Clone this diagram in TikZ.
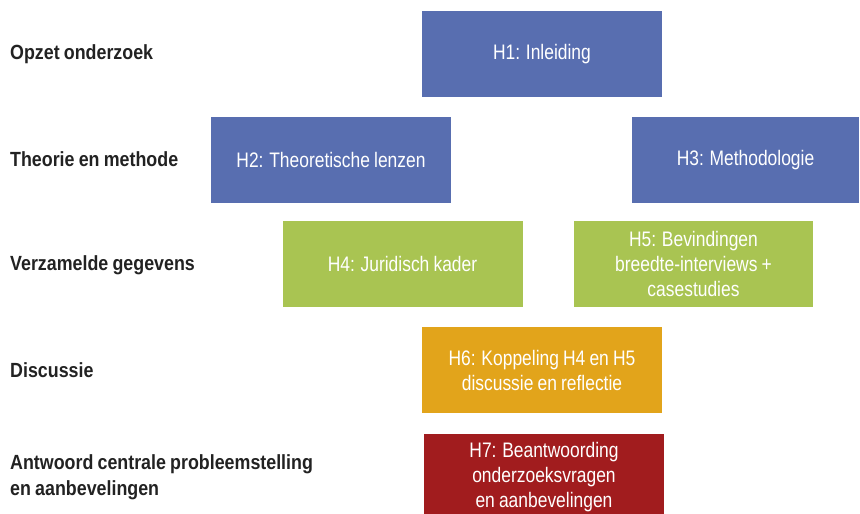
\documentclass[tikz,border=0pt]{standalone}
\usepackage{fontspec}
\setmainfont{Liberation Sans}[FakeStretch=0.83, WordSpace=0.85, BoldFeatures={FakeStretch=0.87}]
\definecolor{chapblue}{HTML}{586EB0}
\definecolor{chapgreen}{HTML}{A9C452}
\definecolor{chaporange}{HTML}{E2A41B}
\definecolor{chapred}{HTML}{A11C1E}
\definecolor{labelgray}{HTML}{222222}
\begin{document}
\begin{tikzpicture}[x=1pt,y=-1pt,
  chapter/.style={rectangle, inner sep=0pt, outer sep=0pt, text=white, align=center,
    font=\fontsize{21pt}{25pt}\selectfont, minimum height=86pt},
  phase/.style={anchor=west, align=left, text=labelgray, inner sep=0pt,
    font=\fontsize{20.5pt}{26pt}\selectfont\bfseries}]
\useasboundingbox (0,0) rectangle (860,514);

% phase labels on the left
\node[phase] (l1) at (10,54) {Opzet onderzoek};
\node[phase] (l2) at (10,159) {Theorie en methode};
\node[phase] (l3) at (10,265) {Verzamelde gegevens};
\node[phase] (l4) at (10,370) {Discussie};
\node[phase] (l5) at (10,477) {Antwoord centrale probleemstelling\\en aanbevelingen};

% chapter boxes
\node[chapter, fill=chapblue, minimum width=240pt] (h1) at (542,54) {H1: Inleiding};
\node[chapter, fill=chapblue, minimum width=240pt] (h2) at (331,160) {H2: Theoretische lenzen};
\node[chapter, fill=chapblue, minimum width=227pt] (h3) at (745.5,160) {H3: Methodologie};
\node[chapter, fill=chapgreen, minimum width=240pt] (h4) at (402.5,264) {H4: Juridisch kader};
\node[chapter, fill=chapgreen, minimum width=239pt] (h5) at (693.5,264) {H5: Bevindingen\\breedte-interviews +\\casestudies};
\node[chapter, fill=chaporange, minimum width=240pt] (h6) at (542,370) {H6: Koppeling H4 en H5\\discussie en reflectie};
\node[chapter, fill=chapred, minimum width=240pt, minimum height=80pt] (h7) at (544,474) {};
\node[text=white, align=center, inner sep=0pt, font=\fontsize{21pt}{25pt}\selectfont] (h7t) at (544,477)
  {H7: Beantwoording\\onderzoeksvragen\\en aanbevelingen};
\end{tikzpicture}
\end{document}
